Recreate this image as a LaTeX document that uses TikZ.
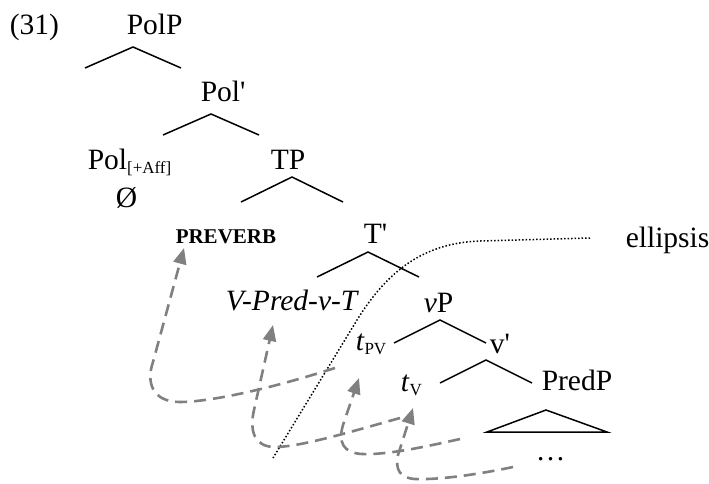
\documentclass[tikz,border=0pt]{standalone}
\usepackage{fontspec}
\setmainfont{Liberation Serif}
\usetikzlibrary{arrows.meta}

% lowered small subscript for traces and features
\newcommand{\lowsub}[1]{\raisebox{-4pt}{\fontsize{17}{17}\selectfont #1}}
% a pair of branches hanging from an apex
\newcommand{\branch}[3]{\draw (#1) ++(-#2,#3) -- (#1) -- ++(#2,#3);}

\begin{document}
\begin{tikzpicture}[x=1pt, y=-1pt, line width=1.5pt,
	word/.style={anchor=base west, inner sep=0pt, font=\fontsize{29.5}{34}\selectfont},
	move/.style={draw=gray, line width=2.6pt, dash pattern=on 12pt off 7pt,
		-{Triangle[length=16pt,width=13pt]}},
	gap/.style={line width=1.5pt, dash pattern=on 1.5pt off 2pt}]
	\useasboundingbox (0,0) rectangle (709,483);
	
	\node[word] (ex) at (9,34) {(31)};
	\node[word] (polp) at (126,34) {PolP};
	\node[word] (polbar) at (200,101) {Pol\textquotesingle};
	\node[word] (pol) at (87,169) {Pol\lowsub{[+Aff]}};
	\node[word] (zero) at (115,207) {Ø};
	\node[word] (tp) at (270,169) {TP};
	\node[word, font=\fontsize{21}{24}\selectfont\bfseries] (preverb) at (175,243) {PREVERB};
	\node[word] (tbar) at (363,243) {T\textquotesingle};
	\node[word] (vpredvt) at (225,310) {\textit{V-Pred-v-T}};
	\node[word] (vp) at (423,312) {\textit{v}P};
	\node[word] (tpv) at (355,350) {\textit{t}\lowsub{PV}};
	\node[word] (vbar) at (489,353) {v\textquotesingle};
	\node[word] (tv) at (400,391) {\textit{t}\lowsub{V}};
	\node[word] (predp) at (541,390) {PredP};
	\node[word] (dots) at (535,460) {…};
	\node[word] (ellipsis) at (625,247) {ellipsis};
	
	% branches
	\coordinate (polp-top) at (133,47);
	\coordinate (polbar-top) at (211,114);
	\coordinate (tp-top) at (292,177);
	\coordinate (tbar-top) at (368,252);
	\coordinate (vp-top) at (440,320);
	\coordinate (vbar-top) at (486,360);
	\branch{polp-top}{48}{21}
	\branch{polbar-top}{48}{21}
	\branch{tp-top}{51}{25}
	\branch{tbar-top}{51}{25}
	\branch{vp-top}{46}{23}
	\branch{vbar-top}{46}{23}
	\draw (487,432) -- (546,410) -- (607,432) -- cycle;
	
	% ellipsis site
	\coordinate (cut) at (273,458);
	\draw[gap] ([shift={(-35,-9)}]ellipsis.base west) -- (480,241)
		.. controls (420,243) and (385,275) .. (357,320) -- (cut);
	
	% movement
	\draw[move] ([shift={(-20,18)}]tpv.base west) .. controls (260,392) and (205,402) .. (180,402)
		.. controls (152,402) and (146,382) .. (153,362) -- ([shift={(9,5)}]preverb.base west);
	\draw[move] ([shift={(0,27)}]tv.base west) .. controls (350,432) and (300,447) .. (275,447)
		.. controls (255,447) and (249,432) .. (254,410) -- ([shift={(48,15)}]vpredvt.base west);
	\draw[move] ([shift={(-81,49)}]predp.base west) .. controls (420,448) and (385,455) .. (362,454)
		.. controls (343,453) and (338,442) .. (343,425) -- ([shift={(4,28)}]tpv.base west);
	\draw[move] ([shift={(-22,7)}]dots.base west) .. controls (480,474) and (440,480) .. (415,479)
		.. controls (400,478) and (395,470) .. (398,455) -- ([shift={(13,17)}]tv.base west);
\end{tikzpicture}
\end{document}
